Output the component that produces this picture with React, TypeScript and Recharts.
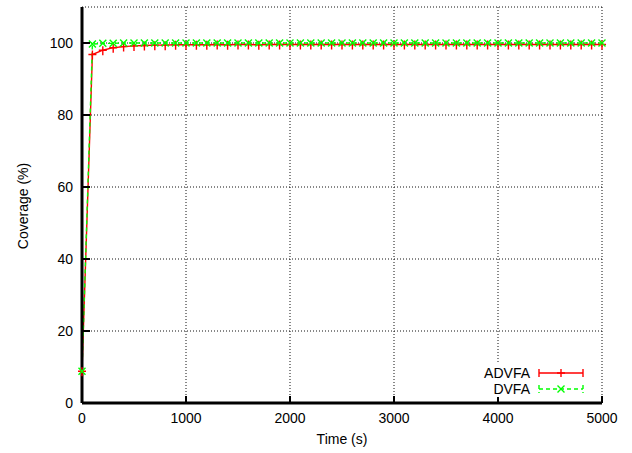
import React from 'react';
import { LineChart, Line, XAxis, YAxis, CartesianGrid, Legend } from 'recharts';

const times = [
  0, 100, 200, 300, 400, 500, 600, 700, 800, 900,
  1000, 1100, 1200, 1300, 1400, 1500, 1600, 1700, 1800, 1900,
  2000, 2100, 2200, 2300, 2400, 2500, 2600, 2700, 2800, 2900,
  3000, 3100, 3200, 3300, 3400, 3500, 3600, 3700, 3800, 3900,
  4000, 4100, 4200, 4300, 4400, 4500, 4600, 4700, 4800, 4900,
  5000,
];

const advfa = [
  8.8, 96.8, 98.0, 98.7, 99.0, 99.2, 99.3, 99.4, 99.4, 99.5,
  99.5, 99.5, 99.5, 99.6, 99.5, 99.6, 99.6, 99.5, 99.6, 99.6,
  99.6, 99.6, 99.6, 99.6, 99.6, 99.6, 99.6, 99.6, 99.6, 99.6,
  99.6, 99.6, 99.6, 99.6, 99.6, 99.6, 99.6, 99.6, 99.6, 99.6,
  99.6, 99.6, 99.6, 99.6, 99.6, 99.6, 99.6, 99.6, 99.6, 99.6,
  99.6,
];

const dvfa = [
  8.8, 99.7, 99.9, 99.9, 100, 100, 100, 100, 100, 100,
  100, 100, 100, 100, 100, 100, 100, 100, 100, 100,
  100, 100, 100, 100, 100, 100, 100, 100, 100, 100,
  100, 100, 100, 100, 100, 100, 100, 100, 100, 100,
  100, 100, 100, 100, 100, 100, 100, 100, 100, 100,
  100,
];

const xTicks = [0, 1000, 2000, 3000, 4000, 5000];
const yTicks = [0, 20, 40, 60, 80, 100];

const data = times.map((t, i) => ({ t, ADVFA: advfa[i], DVFA: dvfa[i] }));

const FONT = '"Liberation Sans", Arial, sans-serif';
const RED = '#ff0000';
const GREEN = '#00ff00';

const PlusDot = (p: any) => {
  const { cx, cy, index } = p;
  if (cx == null || cy == null) return <g key={`p${index}`} />;
  return (
    <path key={`p${index}`} d={`M${cx - 4},${cy}h8M${cx},${cy - 4}v9`} stroke={RED} strokeWidth={1.4} fill="none" />
  );
};

const CrossDot = (p: any) => {
  const { cx, cy, index } = p;
  if (cx == null || cy == null) return <g key={`x${index}`} />;
  return (
    <path
      key={`x${index}`}
      d={`M${cx - 3.5},${cy - 3.5}L${cx + 3.5},${cy + 3.5}M${cx - 3.5},${cy + 3.5}L${cx + 3.5},${cy - 3.5}`}
      stroke={GREEN}
      strokeWidth={1.4}
      fill="none"
    />
  );
};

const BottomTick = ({ x, y, payload }: any) => (
  <g>
    <line x1={x} y1={y} x2={x} y2={y - 7} stroke="#000" strokeWidth={2} />
    <text x={x} y={y + 20} textAnchor="middle" fontSize={14} fontFamily={FONT} fill="#000">
      {payload.value}
    </text>
  </g>
);

const TopTick = ({ x, y }: any) => <line x1={x} y1={y} x2={x} y2={y + 7} stroke="#000" strokeWidth={2} />;

const LeftTick = ({ x, y, payload }: any) => (
  <g>
    <line x1={x} y1={y} x2={x + 8} y2={y} stroke="#000" strokeWidth={2} />
    <text x={x - 9} y={y + 5} textAnchor="end" fontSize={14} fontFamily={FONT} fill="#000">
      {payload.value}
    </text>
  </g>
);

const RightTick = ({ x, y }: any) => <line x1={x} y1={y} x2={x - 8} y2={y} stroke="#000" strokeWidth={2} />;

const KeyBox = () => (
  <svg width={125} height={34} style={{ display: 'block', background: '#fff' }}>
    <text x={60} y={15} textAnchor="end" fontSize={14} fontFamily={FONT} fill="#000">ADVFA</text>
    <path d="M69,10H113M69,6v8M113,6v8" stroke={RED} strokeWidth={1.4} fill="none" />
    <path d="M87,10h8M91,6v8" stroke={RED} strokeWidth={1.4} fill="none" />
    <text x={60} y={31} textAnchor="end" fontSize={14} fontFamily={FONT} fill="#000">DVFA</text>
    <path d="M69,26H113M69,22v8M113,22v8" stroke={GREEN} strokeWidth={1.4} strokeDasharray="4 3" fill="none" />
    <path d="M87.5,22.5L94.5,29.5M87.5,29.5L94.5,22.5" stroke={GREEN} strokeWidth={1.4} fill="none" />
  </svg>
);

export default function App() {
  return (
    <div style={{ position: 'absolute', left: 0, top: 0, width: 632, height: 453, background: '#fff' }}>
      <LineChart width={632} height={453} data={data} margin={{ top: 7, right: 30, bottom: 0, left: 0 }}>
        <CartesianGrid stroke="#111" strokeDasharray="1 2" />
        <XAxis
          dataKey="t"
          type="number"
          domain={[0, 5000]}
          ticks={xTicks}
          height={50}
          axisLine={{ stroke: '#000', strokeWidth: 3 }}
          tickLine={false}
          tickSize={0}
          tickMargin={0}
          tick={<BottomTick />}
          label={() => (
            <text x={342} y={444} textAnchor="middle" fontSize={14} fontFamily={FONT} fill="#000">
              Time (s)
            </text>
          )}
        />
        <XAxis
          xAxisId="top"
          orientation="top"
          dataKey="t"
          type="number"
          domain={[0, 5000]}
          ticks={xTicks}
          height={0}
          axisLine={{ stroke: '#000', strokeWidth: 3 }}
          tickLine={false}
          tickSize={0}
          tickMargin={0}
          tick={<TopTick />}
        />
        <YAxis
          type="number"
          domain={[0, 110]}
          ticks={yTicks}
          width={82}
          axisLine={{ stroke: '#000', strokeWidth: 3 }}
          tickLine={false}
          tickSize={0}
          tickMargin={0}
          tick={<LeftTick />}
          label={() => (
            <text
              x={23}
              y={206}
              textAnchor="middle"
              dominantBaseline="central"
              transform="rotate(-90, 23, 206)"
              fontSize={14}
              fontFamily={FONT}
              fill="#000"
            >
              Coverage (%)
            </text>
          )}
        />
        <YAxis
          yAxisId="right"
          orientation="right"
          type="number"
          domain={[0, 110]}
          ticks={yTicks}
          width={0}
          axisLine={{ stroke: '#000', strokeWidth: 3 }}
          tickLine={false}
          tickSize={0}
          tickMargin={0}
          tick={<RightTick />}
        />
        <Legend
          layout="vertical"
          align="center"
          verticalAlign="middle"
          content={() => <KeyBox />}
          wrapperStyle={{ position: 'absolute', left: 470, top: 363, width: 125, height: 34 }}
        />
        <Line
          dataKey="ADVFA"
          stroke={RED}
          strokeWidth={1.4}
          dot={(p: any) => <PlusDot {...p} />}
          activeDot={false}
          isAnimationActive={false}
        />
        <Line
          dataKey="DVFA"
          stroke={GREEN}
          strokeWidth={1.4}
          strokeDasharray="4 3"
          dot={(p: any) => <CrossDot {...p} />}
          activeDot={false}
          isAnimationActive={false}
        />
      </LineChart>
    </div>
  );
}
